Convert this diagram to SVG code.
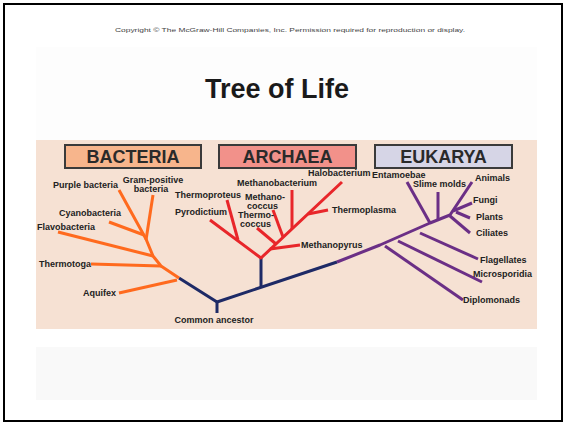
<svg xmlns="http://www.w3.org/2000/svg" width="565" height="424" viewBox="0 0 565 424">
<style>
.lbl{font-family:"Liberation Sans",Arial,sans-serif;font-size:9px;font-weight:bold;fill:#222;}
.dom{font-family:"Liberation Sans",Arial,sans-serif;font-size:18px;font-weight:bold;fill:#2a2a2a;text-anchor:middle;}
.box{stroke:#3a3a3a;stroke-width:2;}
.br{fill:none;stroke-width:3;stroke-linecap:butt;stroke-linejoin:round;}
.bac{stroke:#ff6a1e;}
.arc{stroke:#e8262a;}
.euk{stroke:#6b2f86;}
.nav{stroke:#1e2a66;}
</style>
<rect x="0" y="0" width="565" height="424" fill="#ffffff"/>
<rect x="4" y="4" width="558" height="417" fill="none" stroke="#000" stroke-width="2"/>
<rect x="36" y="47" width="501" height="93" fill="#fdfdfd"/>
<rect x="36" y="140" width="501" height="189" fill="#f6e1d3"/>
<rect x="36" y="347" width="501" height="53" fill="#f9f9f9"/>
<text x="290" y="32" font-family="Liberation Sans,Arial,sans-serif" font-size="5.5" fill="#444" text-anchor="middle" textLength="350" lengthAdjust="spacingAndGlyphs">Copyright © The McGraw-Hill Companies, Inc. Permission required for reproduction or display.</text>
<text x="277" y="98" font-family="Liberation Sans,Arial,sans-serif" font-size="27" font-weight="bold" fill="#1a1a1a" text-anchor="middle">Tree of Life</text>

<g id="bacteria">
<rect class="box" x="65" y="145" width="136" height="23" fill="#f7b58c"/>
<text class="dom" x="133" y="163">BACTERIA</text>
</g>
<g id="archaea">
<rect class="box" x="219" y="145" width="137" height="23" fill="#f2918a"/>
<text class="dom" x="287.5" y="163">ARCHAEA</text>
</g>
<g id="eukarya">
<rect class="box" x="375" y="145" width="137" height="23" fill="#d6d5e6"/>
<text class="dom" x="443.5" y="163">EUKARYA</text>
</g>

<g id="connectors">
<polyline class="br nav" points="179,278 217,302 337,262"/>
<line class="br nav" x1="217" y1="302" x2="217" y2="313"/>
<line class="br nav" x1="261" y1="288" x2="261" y2="258"/>
<polyline class="br bac" points="179,278 161,266 153,256 146,239 119,190"/>
<line class="br bac" x1="146" y1="240" x2="153" y2="195"/>
<line class="br bac" x1="144" y1="235" x2="109" y2="222"/>
<line class="br bac" x1="153" y1="256" x2="58" y2="232"/>
<line class="br bac" x1="161" y1="266" x2="91" y2="264"/>
<line class="br bac" x1="177" y1="280" x2="119" y2="293"/>
<polyline class="br arc" points="210,220 261,258 342,182"/>
<line class="br arc" x1="238" y1="240" x2="227" y2="200"/>
<line class="br arc" x1="276" y1="244" x2="257" y2="228"/>
<line class="br arc" x1="283" y1="237" x2="273" y2="210"/>
<line class="br arc" x1="292" y1="229" x2="292" y2="190"/>
<line class="br arc" x1="308" y1="214" x2="328" y2="210"/>
<line class="br arc" x1="270" y1="249" x2="300" y2="245"/>
<polyline class="br euk" points="337,262 380,245 430,223 450,215 472,182"/>
<line class="br euk" x1="430" y1="223" x2="407" y2="182"/>
<line class="br euk" x1="438" y1="219" x2="438" y2="192"/>
<line class="br euk" x1="453" y1="211" x2="472" y2="203"/>
<line class="br euk" x1="456" y1="212" x2="470" y2="218"/>
<line class="br euk" x1="450" y1="216" x2="470" y2="233"/>
<line class="br euk" x1="420" y1="233" x2="478" y2="259"/>
<line class="br euk" x1="398" y1="241" x2="482" y2="282"/>
<line class="br euk" x1="385" y1="246" x2="463" y2="300"/>
</g>

<g id="common-ancestor"><text class="lbl" x="214" y="323" text-anchor="middle">Common ancestor</text></g>
<g id="purple-bacteria"><text class="lbl" x="118" y="188" text-anchor="end">Purple bacteria</text></g>
<g id="gram-positive"><text class="lbl" x="153" y="183" text-anchor="middle">Gram-positive</text><text class="lbl" x="151" y="192" text-anchor="middle">bacteria</text></g>
<g id="cyanobacteria"><text class="lbl" x="121" y="216" text-anchor="end">Cyanobacteria</text></g>
<g id="flavobacteria"><text class="lbl" x="37" y="230">Flavobacteria</text></g>
<g id="thermotoga"><text class="lbl" x="91" y="267" text-anchor="end">Thermotoga</text></g>
<g id="aquifex"><text class="lbl" x="116" y="296" text-anchor="end">Aquifex</text></g>

<g id="halobacterium"><text class="lbl" x="308" y="176">Halobacterium</text></g>
<g id="methanobacterium"><text class="lbl" x="277" y="186" text-anchor="middle">Methanobacterium</text></g>
<g id="thermoproteus"><text class="lbl" x="241" y="198" text-anchor="end">Thermoproteus</text></g>
<g id="methanococcus"><text class="lbl" x="245" y="200">Methano-</text><text class="lbl" x="247" y="209">coccus</text></g>
<g id="pyrodictium"><text class="lbl" x="227" y="215" text-anchor="end">Pyrodictium</text></g>
<g id="thermococcus"><text class="lbl" x="238" y="218">Thermo-</text><text class="lbl" x="240" y="227">coccus</text></g>
<g id="thermoplasma"><text class="lbl" x="332" y="213">Thermoplasma</text></g>
<g id="methanopyrus"><text class="lbl" x="301" y="248">Methanopyrus</text></g>

<g id="entamoebae"><text class="lbl" x="372" y="178">Entamoebae</text></g>
<g id="slime-molds"><text class="lbl" x="413" y="187">Slime molds</text></g>
<g id="animals"><text class="lbl" x="475" y="181">Animals</text></g>
<g id="fungi"><text class="lbl" x="473" y="203">Fungi</text></g>
<g id="plants"><text class="lbl" x="476" y="220">Plants</text></g>
<g id="ciliates"><text class="lbl" x="476" y="236">Ciliates</text></g>
<g id="flagellates"><text class="lbl" x="480" y="263">Flagellates</text></g>
<g id="microsporidia"><text class="lbl" x="473" y="277">Microsporidia</text></g>
<g id="diplomonads"><text class="lbl" x="463" y="303">Diplomonads</text></g>
</svg>
